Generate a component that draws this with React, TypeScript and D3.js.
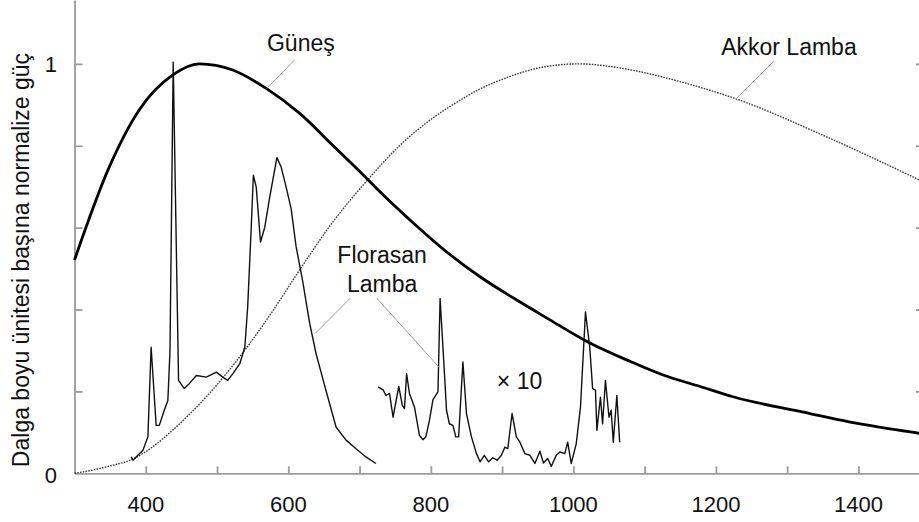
import React, { useEffect, useRef } from 'react';
import * as d3 from 'd3';

// Güneş (sun)
const sunNm = [300, 349, 391, 438, 475, 522, 569, 616, 663, 709, 729, 775, 822, 869, 916, 963, 1019, 1080, 1126, 1178, 1224, 1318, 1411, 1492];
const sunPower = [0.521, 0.749, 0.888, 0.973, 1.0, 0.985, 0.94, 0.879, 0.8, 0.722, 0.687, 0.612, 0.541, 0.48, 0.428, 0.379, 0.322, 0.273, 0.24, 0.212, 0.187, 0.151, 0.118, 0.096];

// Akkor lamba (incandescent)
const akkorNm = [300, 326, 350, 382, 410, 438, 485, 532, 578, 616, 663, 709, 756, 803, 840, 868, 900, 929, 960, 1008, 1050, 1093, 1149, 1229, 1355, 1492];
const akkorPower = [0.0, 0.008, 0.018, 0.035, 0.065, 0.106, 0.187, 0.285, 0.396, 0.497, 0.615, 0.712, 0.8, 0.868, 0.91, 0.938, 0.962, 0.98, 0.993, 1.0, 0.994, 0.981, 0.957, 0.914, 0.822, 0.711];

// Florasan lamba, visible part
const floNm = [379.5, 382, 396, 403, 407.5, 414.6, 419, 426, 431, 434, 438.5, 446, 454, 461, 471, 485, 499, 508, 515, 522, 532, 539, 543, 548, 551, 555, 561, 567, 574, 584, 590, 597, 604, 611, 620, 630, 639, 649, 658, 667, 681, 695, 709, 723];
const floPower = [0.04, 0.032, 0.056, 0.089, 0.308, 0.117, 0.117, 0.154, 0.178, 0.3, 1.004, 0.227, 0.207, 0.219, 0.239, 0.235, 0.247, 0.235, 0.227, 0.243, 0.268, 0.308, 0.406, 0.601, 0.728, 0.699, 0.565, 0.601, 0.675, 0.771, 0.748, 0.699, 0.646, 0.553, 0.471, 0.366, 0.292, 0.227, 0.17, 0.113, 0.081, 0.06, 0.04, 0.024];

// Florasan lamba, infrared part drawn ×10
const floX10Nm = [726, 733, 737, 742, 747, 755, 760, 763, 766, 770, 777, 784, 789, 793, 798, 803, 810, 813, 817, 822, 826, 831, 835, 839, 845, 850, 857, 864, 869, 875, 881, 887, 893, 899, 904, 908, 914, 920, 925, 932, 939, 946, 953, 958, 964, 969, 976, 981, 988, 992, 997, 1004, 1010, 1017, 1023, 1027, 1031, 1033, 1038, 1041, 1045, 1050, 1053, 1056, 1061, 1065];
const floX10Power = [0.211, 0.204, 0.19, 0.195, 0.137, 0.212, 0.166, 0.158, 0.243, 0.195, 0.162, 0.093, 0.082, 0.089, 0.129, 0.18, 0.199, 0.427, 0.308, 0.154, 0.121, 0.117, 0.089, 0.089, 0.272, 0.146, 0.089, 0.048, 0.028, 0.044, 0.028, 0.038, 0.032, 0.044, 0.064, 0.06, 0.146, 0.089, 0.076, 0.048, 0.044, 0.024, 0.054, 0.025, 0.036, 0.017, 0.044, 0.052, 0.048, 0.076, 0.024, 0.072, 0.162, 0.394, 0.308, 0.207, 0.203, 0.105, 0.186, 0.121, 0.227, 0.137, 0.154, 0.076, 0.19, 0.076];

const xTicks = [400, 500, 600, 700, 800, 900, 1000, 1100, 1200, 1300, 1400];
const xLabels = [400, 600, 800, 1000, 1200, 1400];
const yTicks = [0.2, 0.4, 0.6, 0.8, 1];
const yLabels = [0, 1];

const WIDTH = 919;
const HEIGHT = 522;
const FONT = '"Liberation Sans", Arial, Helvetica, sans-serif';
const AXIS_GRAY = '#9c9c9c';
const TEXT = '#111';

const App: React.FC = () => {
  const svgRef = useRef<SVGSVGElement>(null);

  useEffect(() => {
    if (!svgRef.current) return;
    const svg = d3.select(svgRef.current);
    svg.selectAll('*').remove();

    const x = d3.scaleLinear().domain([300, 1492]).range([74.5, 924]);
    const y = d3.scaleLinear().domain([0, 1.156]).range([473.3, 0]);

    const zip = (a: number[], b: number[]) => a.map((v, i) => [v, b[i]] as [number, number]);

    const smooth = d3.line<[number, number]>()
      .x(d => x(d[0]))
      .y(d => y(d[1]))
      .curve(d3.curveMonotoneX);

    const poly = d3.line<[number, number]>()
      .x(d => x(d[0]))
      .y(d => y(d[1]));

    // axes
    const left = svg.append('g').attr('transform', `translate(${x(300)},0)`)
      .call(d3.axisLeft(y).tickValues(yTicks).tickSizeInner(-8).tickSizeOuter(0).tickFormat(() => ''));
    const right = svg.append('g').attr('transform', `translate(${x(1492)},0)`)
      .call(d3.axisRight(y).tickValues(yTicks).tickSizeInner(-8).tickSizeOuter(0).tickFormat(() => ''));
    const bottom = svg.append('g').attr('transform', `translate(0,${y(0)})`)
      .call(d3.axisBottom(x).tickValues(xTicks).tickSizeInner(-7).tickSizeOuter(0).tickFormat(() => ''));
    [left, right, bottom].forEach(g => {
      g.selectAll('path, line').attr('stroke', AXIS_GRAY).attr('stroke-width', 1.8);
    });

    // tick labels
    svg.append('g').selectAll('text')
      .data(xLabels)
      .join('text')
      .attr('x', d => x(d))
      .attr('y', 512)
      .attr('text-anchor', 'middle')
      .attr('font-family', FONT)
      .attr('font-size', 22)
      .attr('fill', TEXT)
      .text(d => d);

    svg.append('g').selectAll('text')
      .data(yLabels)
      .join('text')
      .attr('x', 57)
      .attr('y', d => y(d))
      .attr('dy', d => (d === 0 ? '0.45em' : '0.36em'))
      .attr('text-anchor', 'end')
      .attr('font-family', FONT)
      .attr('font-size', 22)
      .attr('fill', TEXT)
      .text(d => d);

    // y axis title
    svg.append('text')
      .attr('transform', `translate(29,260) rotate(-90)`)
      .attr('text-anchor', 'middle')
      .attr('font-family', FONT)
      .attr('font-size', 23)
      .attr('fill', TEXT)
      .text('Dalga boyu ünitesi başına normalize güç');

    // curves
    svg.append('path')
      .attr('d', smooth(zip(akkorNm, akkorPower)))
      .attr('fill', 'none')
      .attr('stroke', '#3a3a3a')
      .attr('stroke-width', 1.4)
      .attr('stroke-dasharray', '1.6 1.2');

    svg.append('path')
      .attr('d', smooth(zip(sunNm, sunPower)))
      .attr('fill', 'none')
      .attr('stroke', '#000')
      .attr('stroke-width', 2.8);

    svg.append('path')
      .attr('d', poly(zip(floNm, floPower)))
      .attr('fill', 'none')
      .attr('stroke', '#111')
      .attr('stroke-width', 1.4)
      .attr('stroke-linejoin', 'round');

    svg.append('path')
      .attr('d', poly(zip(floX10Nm, floX10Power)))
      .attr('fill', 'none')
      .attr('stroke', '#111')
      .attr('stroke-width', 1.4)
      .attr('stroke-linejoin', 'round');

    // leader lines (data units)
    const leaders: [number, number, number, number][] = [
      [609, 1.01, 570, 0.94],
      [1281, 1.006, 1229, 0.916],
      [687, 0.428, 638, 0.342],
      [724, 0.428, 811, 0.26],
    ];
    svg.append('g').selectAll('line')
      .data(leaders)
      .join('line')
      .attr('x1', d => x(d[0]))
      .attr('y1', d => y(d[1]))
      .attr('x2', d => x(d[2]))
      .attr('y2', d => y(d[3]))
      .attr('stroke', '#a0a0a0')
      .attr('stroke-width', 1);

    // labels
    const labels: { text: string; nm: number; v: number; anchor: string }[] = [
      { text: 'Güneş', nm: 617.6, v: 1.032, anchor: 'middle' },
      { text: 'Akkor Lamba', nm: 1302.5, v: 1.022, anchor: 'middle' },
      { text: 'Florasan', nm: 731.6, v: 0.513, anchor: 'middle' },
      { text: 'Lamba', nm: 731.6, v: 0.444, anchor: 'middle' },
      { text: '× 10', nm: 892.6, v: 0.205, anchor: 'start' },
    ];
    svg.append('g').selectAll('text')
      .data(labels)
      .join('text')
      .attr('x', d => x(d.nm))
      .attr('y', d => y(d.v))
      .attr('text-anchor', d => d.anchor)
      .attr('font-family', FONT)
      .attr('font-size', 23)
      .attr('fill', TEXT)
      .text(d => d.text);
  }, []);

  return (
    <svg
      ref={svgRef}
      width={WIDTH}
      height={HEIGHT}
      style={{ position: 'absolute', left: 0, top: 0, background: '#fff' }}
    />
  );
};

export default App;
